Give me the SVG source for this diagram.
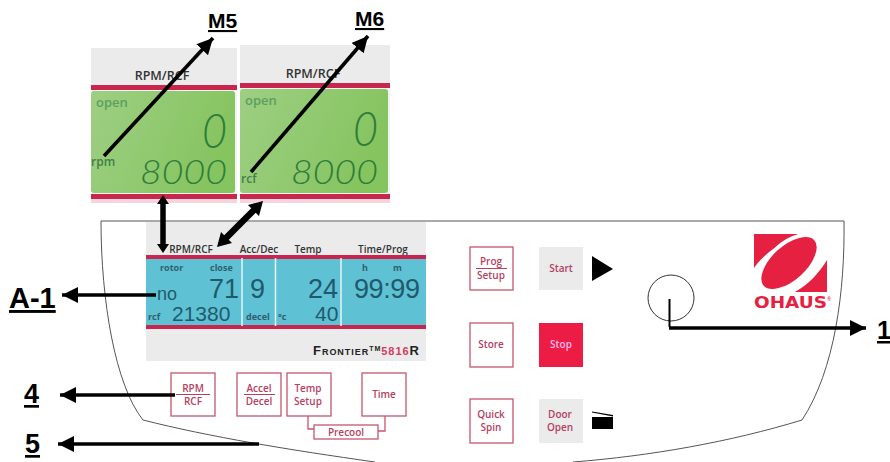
<svg xmlns="http://www.w3.org/2000/svg" width="890" height="462" viewBox="0 0 890 462">
<style>
text{font-family:"Open Sans","Liberation Sans",sans-serif}
.lab{font-family:"Liberation Sans",Arial,sans-serif;font-weight:700;fill:#000;text-decoration:underline}
.btn{fill:#fff;stroke:#c4566f;stroke-width:1.300}
.bt{font-size:10px;font-weight:600;fill:#b5405f;text-anchor:middle}
.gr{fill:#ebebeb}
.red{fill:#c9264f}
.hd{font-size:10px;font-weight:600;fill:#333;text-anchor:middle}
.hd2{font-size:12.500px;font-weight:600;fill:#333;text-anchor:middle}
.lcd{fill:#1f5a6c;font-family:"Liberation Sans",sans-serif}
.sm{fill:#2f5f6f;font-size:9px;font-weight:700}
.seg{font-family:"Lato","Roboto",sans-serif;font-style:italic;font-weight:300;fill:#2f7d3a}
.op{font-size:13px;font-weight:600;fill:#5c9f60}
.op2{font-size:12px;font-weight:600;fill:#3f8048}
.con{stroke:#000;stroke-width:3.600;fill:none}
</style>
<defs>
<linearGradient id="g" x1="0" x2="1" y1="0" y2="0.3"><stop offset="0" stop-color="#9dcf83"/><stop offset="1" stop-color="#86c45f"/></linearGradient>
<marker id="a" markerUnits="userSpaceOnUse" markerWidth="18" markerHeight="16" refX="16" refY="8" orient="auto-start-reverse"><path d="M0 0L16 8L0 16z" fill="#000"/></marker>
</defs>
<path id="outline" d="M375 462C290 450 210 437 143 420C115 385 101 300 101 221H844C845 290 835 370 802 420C730 442 650 456 573 462" fill="#fff" stroke="#555" stroke-width="1"/>
<g id="panel-rpm">
<rect class="gr" x="91" y="48" width="146" height="38"/>
<text x="162" y="80" class="hd2">RPM/RCF</text>
<rect class="red" x="91" y="85" width="146" height="5"/>
<rect x="91" y="90" width="146" height="113" fill="#f2f2f2"/>
<rect x="91" y="91" width="144" height="102" rx="3" fill="url(#g)"/>
<rect class="red" x="91" y="194" width="146" height="5"/>
<rect x="91" y="199" width="146" height="4" fill="#f3d6dd"/>
<text x="96" y="107" class="op">open</text>
<text x="91" y="166" class="op2">rpm</text>
<text x="202" y="148" class="seg" font-size="48" textLength="25" lengthAdjust="spacingAndGlyphs">0</text>
<text x="140" y="184" class="seg" font-size="34" textLength="87" lengthAdjust="spacingAndGlyphs">8000</text>
</g>
<g id="panel-rcf">
<rect class="gr" x="240" y="45" width="150" height="38"/>
<text x="313" y="78" class="hd2">RPM/RCF</text>
<rect class="red" x="240" y="83" width="150" height="5"/>
<rect x="240" y="88" width="150" height="115" fill="#f2f2f2"/>
<rect x="240" y="89" width="148" height="104" rx="3" fill="url(#g)"/>
<rect class="red" x="240" y="194" width="150" height="5"/>
<rect x="240" y="199" width="150" height="4" fill="#f3d6dd"/>
<text x="245" y="105" class="op">open</text>
<text x="241" y="183" class="op2">rcf</text>
<text x="353" y="146" class="seg" font-size="48" textLength="25" lengthAdjust="spacingAndGlyphs">0</text>
<text x="291" y="184" class="seg" font-size="34" textLength="87" lengthAdjust="spacingAndGlyphs">8000</text>
</g>
<g id="display">
<rect class="gr" x="146" y="222" width="280" height="139"/>
<text x="191" y="253" class="hd">RPM/RCF</text>
<text x="259" y="253" class="hd">Acc/Dec</text>
<text x="308" y="253" class="hd">Temp</text>
<text x="383" y="253" class="hd">Time/Prog</text>
<rect x="146" y="259" width="280" height="66" fill="#5fc1d4"/>
<rect class="red" x="146" y="255" width="280" height="4"/>
<rect class="red" x="146" y="325" width="280" height="4"/>
<path d="M242 258V326M275.500 258V326M341 258V326" stroke="#e8f5f5" stroke-width="1.500"/>
<text x="160" y="271" class="sm">rotor</text>
<text x="210" y="271" class="sm">close</text>
<text x="362" y="271" class="sm">h</text>
<text x="393" y="271" class="sm">m</text>
<text x="157" y="300" class="lcd" font-size="18">no</text>
<text x="209" y="298" class="lcd" font-size="27">71</text>
<text x="250" y="298" class="lcd" font-size="27">9</text>
<text x="308" y="298" class="lcd" font-size="27">24</text>
<text x="354" y="298" class="lcd" font-size="27" textLength="66">99:99</text>
<text x="148" y="320" class="sm">rcf</text>
<text x="172" y="321" class="lcd" font-size="21">21380</text>
<text x="246" y="320" class="sm">decel</text>
<text x="278" y="320" class="sm">°c</text>
<text x="315" y="321" class="lcd" font-size="21">40</text>
<text x="313" y="355" font-size="13" font-weight="700" fill="#222" textLength="106" style="font-family:'Liberation Sans',sans-serif;font-variant:small-caps">Frontier<tspan font-size="7" dy="-4">TM</tspan><tspan dy="4" fill="#d23c62" font-size="11">5816</tspan>R</text>
</g>
<g id="btn-rpm"><rect class="btn" x="171" y="373" width="44" height="43"/><text class="bt" x="193" y="392">RPM</text><path d="M176 394.500H210" stroke="#b5405f"/><text class="bt" x="193" y="405">RCF</text></g>
<g id="btn-accel"><rect class="btn" x="237" y="373" width="44" height="43"/><text class="bt" x="259" y="392">Accel</text><path d="M244 394.500H275" stroke="#b5405f"/><text class="bt" x="259" y="405">Decel</text></g>
<g id="btn-temp"><rect class="btn" x="287" y="373" width="44" height="43"/><text class="bt" x="308" y="392">Temp</text><text class="bt" x="308" y="405">Setup</text></g>
<g id="btn-time"><rect class="btn" x="362" y="373" width="44" height="43"/><text class="bt" x="384" y="398">Time</text></g>
<g id="btn-precool"><path d="M308 416V429H314M385 416V431H378" fill="none" stroke="#c4566f" stroke-width="1.300"/><rect class="btn" x="314" y="425" width="64" height="14"/><text class="bt" x="346" y="436">Precool</text></g>
<g id="btn-prog"><rect class="btn" x="470" y="247" width="43" height="43"/><text class="bt" x="491" y="265">Prog</text><path d="M476 268.500H507" stroke="#b5405f"/><text class="bt" x="491" y="279">Setup</text></g>
<g id="btn-start"><rect class="gr" x="539" y="247" width="44" height="43"/><text class="bt" x="561" y="272">Start</text><path d="M592 256L613 269L592 281z" fill="#000"/></g>
<g id="btn-store"><rect class="btn" x="470" y="323" width="43" height="44"/><text class="bt" x="491" y="348">Store</text></g>
<g id="btn-stop"><rect x="539" y="323" width="44" height="44" fill="#ed1c45"/><text class="bt" x="561" y="348" style="fill:#fbe">Stop</text></g>
<g id="btn-quick"><rect class="btn" x="470" y="399" width="43" height="44"/><text class="bt" x="491" y="418">Quick</text><text class="bt" x="491" y="431">Spin</text></g>
<g id="btn-door"><rect class="gr" x="539" y="399" width="44" height="44"/><text class="bt" x="560" y="418">Door</text><text class="bt" x="560" y="431">Open</text><rect x="592" y="417" width="21" height="12"/><path d="M592 411.500L613 415V416.500L592 412.500z" fill="#000"/></g>
<g id="knob"><circle cx="671" cy="298" r="23" fill="none" stroke="#333" stroke-width="1"/></g>
<g id="logo">
<path d="M754 234H803C785 240 765 252 754 268zM827 260V292H795C808 285 820 272 827 260z" fill="#e62040"/>
<ellipse cx="789" cy="263" rx="36" ry="19" transform="rotate(-42 789 263)" fill="#e62040" stroke="#fff" stroke-width="4"/>
<text x="754" y="308" font-size="15" font-weight="700" fill="#e62040" textLength="73" lengthAdjust="spacingAndGlyphs" style="font-family:'DejaVu Sans',sans-serif">OHAUS</text>
<text x="827" y="301" font-size="5" fill="#e62040">®</text>
</g>
<g id="connectors">
<path class="con" d="M104 156L213 38" marker-end="url(#a)"/>
<path class="con" d="M251 172L368 36" marker-end="url(#a)"/>
<path class="con" style="stroke-width:5.500" d="M163 245V203"/>
<path d="M163 195L169 204H157zM163 253L169 244H157z" fill="#000"/>
<path class="con" style="stroke-width:6.500" d="M223 241L257 207"/>
<path d="M263 201L259 216L248 205zM217 247L221 232L232 243z" fill="#000"/>
<path class="con" d="M156 295H62" marker-end="url(#a)"/>
<path class="con" d="M175 395H60" marker-end="url(#a)"/>
<path class="con" d="M259 444H58" marker-end="url(#a)"/>
<path d="M669.500 299V327" stroke="#000" stroke-width="2" fill="none"/>
<path class="con" d="M669 328H866" marker-end="url(#a)"/>
</g>
<g id="labels">
<text class="lab" x="208" y="28" font-size="21">M5</text>
<text class="lab" x="355" y="26" font-size="21">M6</text>
<text class="lab" x="9" y="308" font-size="29">A-1</text>
<text class="lab" x="24" y="403" font-size="27">4</text>
<text class="lab" x="25" y="453" font-size="27">5</text>
<text class="lab" x="877" y="339" font-size="25">1</text>
</g>
</svg>
